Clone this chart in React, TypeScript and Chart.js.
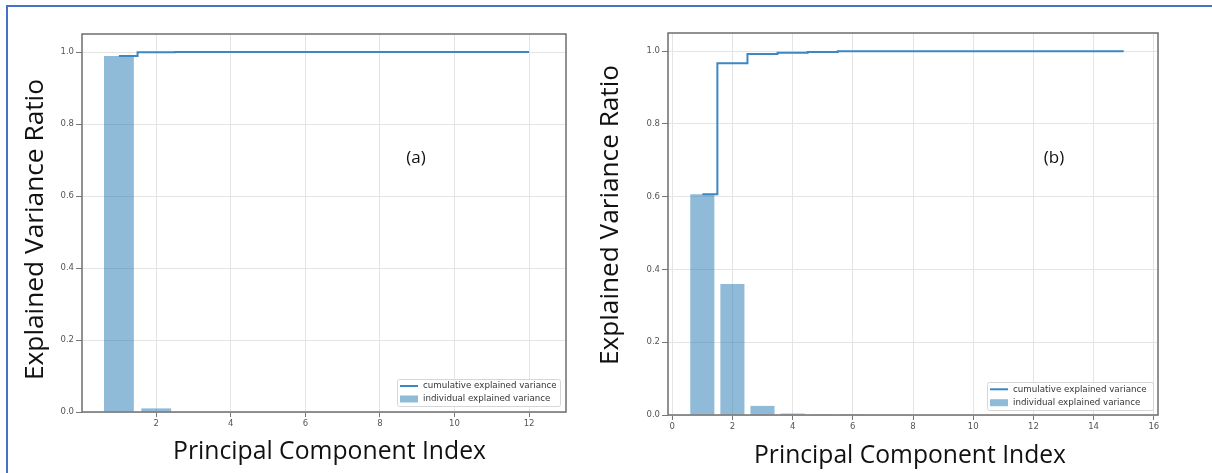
import React, { useEffect, useRef } from 'react';
import { Chart, registerables } from 'chart.js';

Chart.register(...registerables);

// ---------- data ----------
const componentsA = [1, 2, 3, 4, 5, 6, 7, 8, 9, 10, 11, 12];
const individualA = [0.989, 0.010, 0.001, 0, 0, 0, 0, 0, 0, 0, 0, 0];
const cumulativeA = [0.989, 0.999, 1.0, 1.0, 1.0, 1.0, 1.0, 1.0, 1.0, 1.0, 1.0, 1.0];

const componentsB = [1, 2, 3, 4, 5, 6, 7, 8, 9, 10, 11, 12, 13, 14, 15];
const individualB = [0.607, 0.360, 0.025, 0.004, 0.002, 0.002, 0, 0, 0, 0, 0, 0, 0, 0, 0];
const cumulativeB = [0.607, 0.967, 0.992, 0.996, 0.998, 1.0, 1.0, 1.0, 1.0, 1.0, 1.0, 1.0, 1.0, 1.0, 1.0];

const xTicksA = [2, 4, 6, 8, 10, 12];
const xTicksB = [0, 2, 4, 6, 8, 10, 12, 14, 16];
const yTicks = [0, 0.2, 0.4, 0.6, 0.8, 1.0];
const xRangeA = [0.01, 12.99];
const xRangeB = [-0.14, 16.14];
const yRange = [0, 1.05];

const legendLabels = ['cumulative explained variance', 'individual explained variance'];
const xTitle = 'Principal Component Index';
const yTitle = 'Explained Variance Ratio';
const panelLabels = ['(a)', '(b)'];

// ---------- style ----------
const LINE_COLOR = '#3d87c2';
const BAR_COLOR = 'rgba(31,119,180,0.5)';
const GRID_COLOR = '#e4e4e4';
const FRAME_COLOR = '#6e6e6e';
const TICK_FONT = { family: 'DejaVu Sans', size: 8.5 };
const TITLE_FONT = '"Open Sans", "DejaVu Sans", sans-serif';
const PAGE_H = 473;

type Panel = {
  canvasLeft: number;
  canvasWidth: number;
  area: { left: number; right: number; top: number; bottom: number };
  yTitlePos: { x: number; y: number; w: number };
  xTitlePos: { x: number; y: number; w: number };
  labelPos: { x: number; y: number };
  legendBox: { left: number; top: number; right: number; bottom: number };
  label: string;
  components: number[];
  individual: number[];
  cumulative: number[];
  xTicks: number[];
  xRange: number[];
};

const panels: Panel[] = [
  {
    canvasLeft: 0,
    canvasWidth: 600,
    area: { left: 82, right: 566, top: 34, bottom: 412 },
    yTitlePos: { x: 43, y: 229.5, w: 301 },
    xTitlePos: { x: 329.5, y: 459, w: 313 },
    labelPos: { x: 416, y: 158 },
    legendBox: { left: 397, top: 379, right: 560, bottom: 406 },
    label: panelLabels[0],
    components: componentsA,
    individual: individualA,
    cumulative: cumulativeA,
    xTicks: xTicksA,
    xRange: xRangeA,
  },
  {
    canvasLeft: 600,
    canvasWidth: 612,
    area: { left: 668, right: 1158, top: 33, bottom: 415 },
    yTitlePos: { x: 618, y: 215, w: 300 },
    xTitlePos: { x: 910, y: 463, w: 312 },
    labelPos: { x: 1054, y: 158 },
    legendBox: { left: 987, top: 382, right: 1153, bottom: 410 },
    label: panelLabels[1],
    components: componentsB,
    individual: individualB,
    cumulative: cumulativeB,
    xTicks: xTicksB,
    xRange: xRangeB,
  },
];

function fitText(ctx: CanvasRenderingContext2D, text: string, target: number) {
  const w = ctx.measureText(text).width;
  const s = target / w;
  ctx.scale(s, 1);
  ctx.fillText(text, 0, 0);
}

function makeDecor(p: Panel) {
  const ox = p.canvasLeft;
  return {
    id: 'decor' + p.label,
    afterDraw(chart: any) {
      const ctx: CanvasRenderingContext2D = chart.ctx;
      const ca = chart.chartArea;
      ctx.save();
      // frame
      ctx.strokeStyle = FRAME_COLOR;
      ctx.lineWidth = 1.5;
      ctx.strokeRect(ca.left, ca.top, ca.right - ca.left, ca.bottom - ca.top);

      // y title
      ctx.fillStyle = '#111';
      ctx.font = `25px ${TITLE_FONT}`;
      ctx.textAlign = 'center';
      ctx.textBaseline = 'alphabetic';
      ctx.save();
      ctx.translate(p.yTitlePos.x - ox, p.yTitlePos.y);
      ctx.rotate(-Math.PI / 2);
      fitText(ctx, yTitle, p.yTitlePos.w);
      ctx.restore();

      // x title
      ctx.save();
      ctx.translate(p.xTitlePos.x - ox, p.xTitlePos.y);
      fitText(ctx, xTitle, p.xTitlePos.w);
      ctx.restore();

      // panel label
      ctx.font = `17px ${TITLE_FONT}`;
      ctx.textBaseline = 'middle';
      ctx.fillText(p.label, p.labelPos.x - ox, p.labelPos.y);

      // legend
      const lb = p.legendBox;
      const lx = lb.left - ox;
      const lw = lb.right - lb.left;
      const lh = lb.bottom - lb.top;
      ctx.beginPath();
      if ((ctx as any).roundRect) (ctx as any).roundRect(lx + 0.5, lb.top + 0.5, lw, lh, 2);
      else ctx.rect(lx + 0.5, lb.top + 0.5, lw, lh);
      ctx.fillStyle = 'rgba(255,255,255,0.9)';
      ctx.fill();
      ctx.strokeStyle = '#d6d6d6';
      ctx.lineWidth = 1;
      ctx.stroke();

      const r1 = lb.top + lh * 0.26;
      const r2 = lb.top + lh * 0.74;
      ctx.strokeStyle = LINE_COLOR;
      ctx.lineWidth = 2;
      ctx.beginPath();
      ctx.moveTo(lx + 3, r1);
      ctx.lineTo(lx + 21, r1);
      ctx.stroke();
      ctx.fillStyle = BAR_COLOR;
      ctx.fillRect(lx + 3, r2 - 3.5, 18, 7);

      ctx.fillStyle = '#333';
      ctx.font = '8.7px "DejaVu Sans"';
      ctx.textAlign = 'left';
      ctx.textBaseline = 'middle';
      ctx.fillText(legendLabels[0], lx + 26, r1);
      ctx.fillText(legendLabels[1], lx + 26, r2);
      ctx.restore();
    },
  };
}

function PanelChart({ p }: { p: Panel }) {
  const ref = useRef<HTMLCanvasElement | null>(null);
  useEffect(() => {
    if (!ref.current) return;
    const a = p.area;
    const chart = new Chart(ref.current, {
      type: 'bar',
      data: {
        datasets: [
          {
            type: 'line',
            label: legendLabels[0],
            data: p.components.map((x, i) => ({ x, y: p.cumulative[i] })),
            stepped: 'middle',
            borderColor: LINE_COLOR,
            borderWidth: 2,
            pointRadius: 0,
            fill: false,
            order: 0,
          } as any,
          {
            type: 'bar',
            label: legendLabels[1],
            data: p.components.map((x, i) => ({ x, y: p.individual[i] })),
            backgroundColor: BAR_COLOR,
            borderWidth: 0,
            barPercentage: 0.8,
            categoryPercentage: 1.0,
            order: 1,
          } as any,
        ],
      },
      options: {
        responsive: false,
        animation: false,
        devicePixelRatio: 1,
        layout: {
          padding: {
            left: 0,
            top: a.top,
            right: p.canvasLeft + p.canvasWidth - a.right,
            bottom: 0,
          },
        },
        plugins: {
          legend: { display: false },
          tooltip: { enabled: false },
          title: { display: false },
        },
        scales: {
          x: {
            type: 'linear',
            min: p.xRange[0],
            max: p.xRange[1],
            offset: false,
            afterBuildTicks: (s: any) => {
              s.ticks = p.xTicks.map((v) => ({ value: v }));
            },
            afterFit: (s: any) => {
              s.height = PAGE_H - a.bottom;
            },
            grid: {
              offset: false,
              color: GRID_COLOR,
              tickColor: '#777',
              tickLength: 5,
              lineWidth: 1,
            },
            border: { display: false },
            ticks: {
              font: TICK_FONT,
              color: '#555',
              padding: 2,
              maxRotation: 0,
              autoSkip: false,
              callback: (v: any) => String(v),
            },
          },
          y: {
            type: 'linear',
            min: yRange[0],
            max: yRange[1],
            afterBuildTicks: (s: any) => {
              s.ticks = yTicks.map((v) => ({ value: v }));
            },
            afterFit: (s: any) => {
              s.width = a.left - p.canvasLeft;
            },
            grid: {
              color: GRID_COLOR,
              tickColor: '#777',
              tickLength: 6,
              lineWidth: 1,
            },
            border: { display: false },
            ticks: {
              font: TICK_FONT,
              color: '#555',
              padding: 2,
              autoSkip: false,
              callback: (v: any) => Number(v).toFixed(1),
            },
          },
        },
      } as any,
      plugins: [makeDecor(p)],
    });
    return () => chart.destroy();
  }, [p]);
  return (
    <canvas
      ref={ref}
      width={p.canvasWidth}
      height={PAGE_H}
      style={{ position: 'absolute', left: p.canvasLeft, top: 0, width: p.canvasWidth, height: PAGE_H }}
    />
  );
}

export default function App() {
  return (
    <div
      style={{
        position: 'fixed',
        left: 0,
        top: 0,
        width: 1212,
        height: PAGE_H,
        overflow: 'hidden',
        background: '#fff',
      }}
    >
      <div
        style={{
          position: 'absolute',
          left: 6,
          top: 5,
          width: 1400,
          height: 600,
          borderTop: '2px solid #4472c4',
          borderLeft: '2px solid #4472c4',
        }}
      />
      {panels.map((p) => (
        <PanelChart key={p.label} p={p} />
      ))}
    </div>
  );
}
